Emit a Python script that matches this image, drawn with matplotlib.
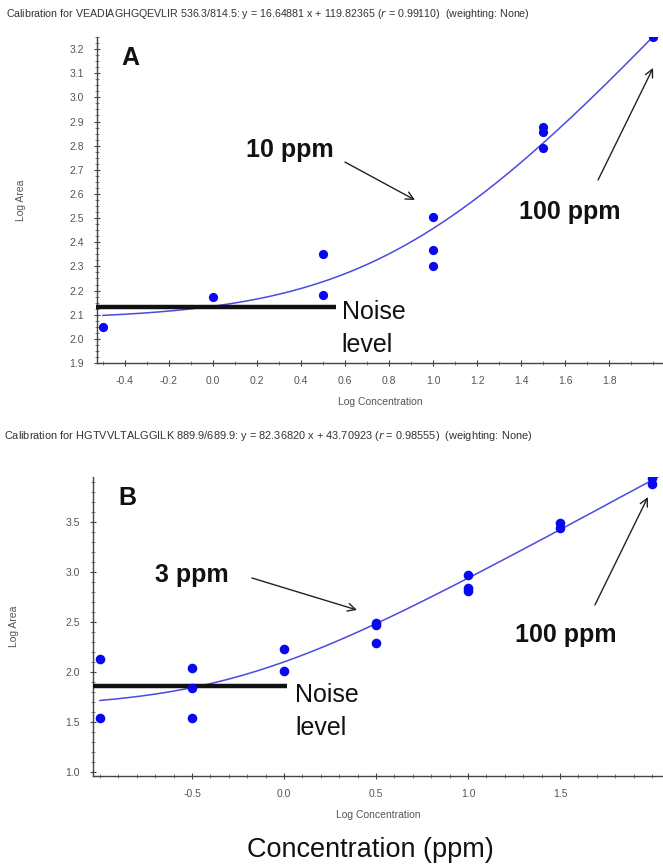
import numpy as np
import matplotlib
matplotlib.use("Agg")
import matplotlib.pyplot as plt
from matplotlib.ticker import MultipleLocator, FormatStrFormatter

plt.rcParams['font.family'] = ['Liberation Sans', 'DejaVu Sans']

# ---- Peptide A: VEADIAGHGQEVLIR ----
a_title = ("Calibration for VEADIAGHGQEVLIR 536.3/814.5: y = 16.64881 x + 119.82365 "
           "($r$ = 0.99110)  (weighting: None)")
a_slope, a_intercept = 16.64881, 119.82365
a_x = [-0.5, 0.0, 0.5, 0.5, 1.0, 1.0, 1.0, 1.5, 1.5, 1.5, 2.0]
a_y = [2.05, 2.175, 2.35, 2.18, 2.505, 2.37, 2.30, 2.877, 2.857, 2.79, 3.25]
a_noise = 2.13

# ---- Peptide B: HGTVVLTALGGILK ----
b_title = ("Calibration for HGTVVLTALGGILK 889.9/689.9: y = 82.36820 x + 43.70923 "
           "($r$ = 0.98555)  (weighting: None)")
b_slope, b_intercept = 82.36820, 43.70923
b_x = [-1.0, -1.0, -0.5, -0.5, -0.5, 0.0, 0.0, 0.5, 0.5, 0.5,
       1.0, 1.0, 1.0, 1.5, 1.5, 2.0, 2.0]
b_y = [2.13, 1.54, 2.04, 1.84, 1.54, 2.23, 2.01, 2.49, 2.47, 2.29,
       2.97, 2.84, 2.81, 3.49, 3.44, 3.94, 3.88]
b_noise = 1.86

DOT = "#0808f0"
FIT = "#4a4ae0"
GREY = "#555555"

fig = plt.figure(figsize=(6.63, 8.68), dpi=100)
W, H = 663.0, 868.0


def axes_px(left, top, right, bottom):
    return fig.add_axes([left / W, 1 - bottom / H, (right - left) / W, (bottom - top) / H])


def style(ax):
    for s in ("top", "right"):
        ax.spines[s].set_visible(False)
    for s in ("left", "bottom"):
        ax.spines[s].set_color("#444444")
        ax.spines[s].set_linewidth(1.0)
    ax.tick_params(which="major", direction="inout", length=5, width=0.8,
                   color="#444444", labelsize=7.5, labelcolor=GREY, pad=7)
    ax.tick_params(which="minor", direction="inout", length=3, width=0.6,
                   color="#666666")
    ax.set_xlabel("Log Concentration", fontsize=7.5, color=GREY, labelpad=8)


def fit_curve(ax, slope, intercept, x0, x1):
    xs = np.linspace(x0, x1, 300)
    ax.plot(xs, np.log10(slope * 10 ** xs + intercept), color=FIT, lw=1.1, zorder=2)


def arrow(ax, start, end):
    ax.annotate("", xy=end, xytext=start,
                arrowprops=dict(arrowstyle="->", color="#222222", lw=1.0,
                                mutation_scale=14, shrinkA=0, shrinkB=0))


big = dict(fontsize=18, fontweight="bold", color="#111111", ha="center", va="center")
noise_kw = dict(fontsize=18, color="#111111", ha="left", va="center")

# ---------------- Panel A ----------------
axA = axes_px(97, 37, 663, 363)
style(axA)
axA.set_xlim(-0.527, 2.045)
axA.set_ylim(1.9, 3.25)
axA.xaxis.set_minor_locator(MultipleLocator(0.1))
axA.yaxis.set_major_locator(MultipleLocator(0.1))
axA.yaxis.set_minor_locator(MultipleLocator(0.025))
axA.set_xticks([v for v in np.arange(-0.4, 1.81, 0.2)])
axA.xaxis.set_major_formatter(FormatStrFormatter("%.1f"))
axA.yaxis.set_major_formatter(FormatStrFormatter("%.1f"))
axA.set_ylabel("Log Area", fontsize=7.5, color=GREY)
axA.yaxis.set_label_coords(-0.126, 0.5)
fit_curve(axA, a_slope, a_intercept, -0.5, 2.05)
axA.plot([-0.53, 0.56], [a_noise, a_noise], color="#111111", lw=3.2, zorder=3,
         solid_capstyle="butt", clip_on=False)
axA.scatter(a_x, a_y, s=44, color=DOT, zorder=4, linewidths=0)
axA.text(-0.377, 3.165, "A", **big)
axA.text(0.35, 2.782, "10 ppm", **big)
arrow(axA, (0.60, 2.732), (0.918, 2.575))
axA.text(1.623, 2.525, "100 ppm", **big)
arrow(axA, (1.75, 2.658), (2.0, 3.122))
axA.text(0.585, 2.111, "Noise", **noise_kw)
axA.text(0.585, 1.973, "level", **noise_kw)
fig.text(6 / W, 1 - 14 / H, a_title, fontsize=7.7, color="#333333", ha="left", va="center")

# ---------------- Panel B ----------------
axB = axes_px(93, 477, 663, 776)
style(axB)
axB.set_xlim(-1.038, 2.06)
axB.set_ylim(0.96, 3.95)
axB.xaxis.set_minor_locator(MultipleLocator(0.1))
axB.yaxis.set_minor_locator(MultipleLocator(0.1))
axB.set_xticks([-0.5, 0.0, 0.5, 1.0, 1.5])
axB.set_yticks([1.0, 1.5, 2.0, 2.5, 3.0, 3.5])
axB.xaxis.set_major_formatter(FormatStrFormatter("%.1f"))
axB.yaxis.set_major_formatter(FormatStrFormatter("%.1f"))
axB.set_ylabel("Log Area", fontsize=7.5, color=GREY)
axB.yaxis.set_label_coords(-0.130, 0.5)
fit_curve(axB, b_slope, b_intercept, -1.0, 2.06)
axB.plot([-1.04, 0.016], [b_noise, b_noise], color="#111111", lw=3.2, zorder=3,
         solid_capstyle="butt", clip_on=False)
axB.scatter(b_x, b_y, s=48, color=DOT, zorder=4, linewidths=0)
axB.text(-0.853, 3.74, "B", **big)
axB.text(-0.5, 2.97, "3 ppm", **big)
arrow(axB, (-0.174, 2.94), (0.397, 2.62))
axB.text(1.533, 2.37, "100 ppm", **big)
arrow(axB, (1.69, 2.67), (1.978, 3.75))
axB.text(0.06, 1.77, "Noise", **noise_kw)
axB.text(0.06, 1.44, "level", **noise_kw)
fig.text(4 / W, 1 - 436 / H, b_title, fontsize=7.95, color="#333333", ha="left", va="center")

fig.text(370 / W, 1 - 850 / H, "Concentration (ppm)", fontsize=19.5, color="#111111",
         ha="center", va="center")

fig.savefig("out.png", dpi=100, facecolor="white")
